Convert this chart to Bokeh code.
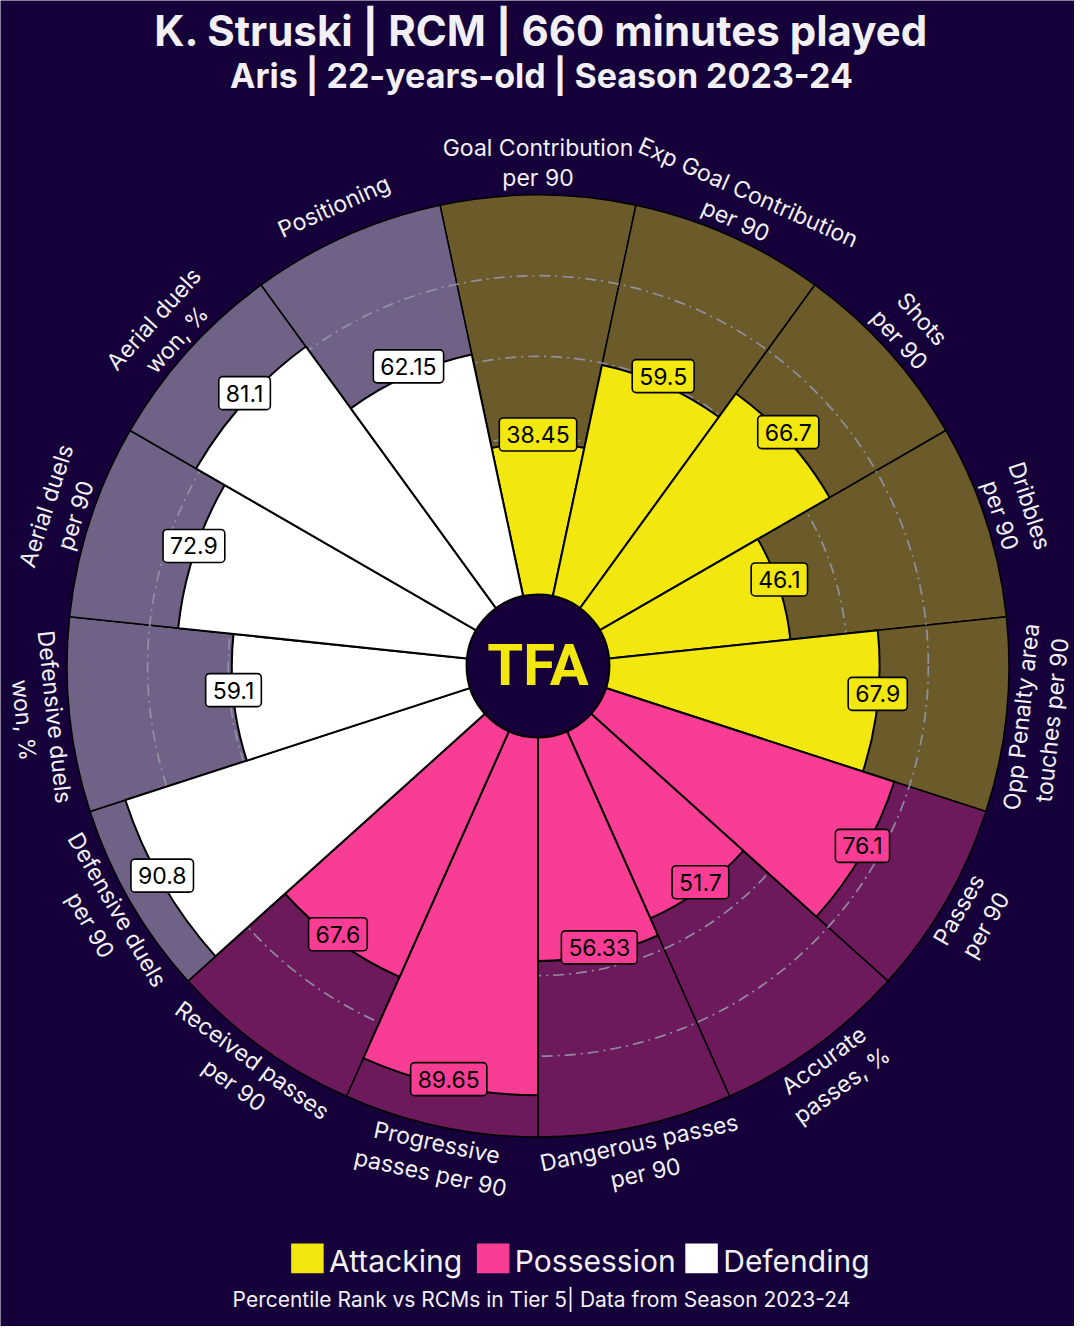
import numpy as np
from bokeh.plotting import figure
from bokeh.models import Range1d, ColumnDataSource
from bokeh.core.properties import value
from bokeh.embed import file_html
from bokeh.resources import INLINE

# ---------------- data ----------------
params = [
    "Goal Contribution\nper 90",
    "Exp Goal Contribution\nper 90",
    "Shots\nper 90",
    "Dribbles\nper 90",
    "Opp Penalty area\ntouches per 90",
    "Passes\nper 90",
    "Accurate\npasses, %",
    "Dangerous passes\nper 90",
    "Progressive\npasses per 90",
    "Received passes\nper 90",
    "Defensive duels\nper 90",
    "Defensive duels\nwon, %",
    "Aerial duels\nper 90",
    "Aerial duels\nwon, %",
    "Positioning",
]
values = [38.45, 59.5, 66.7, 46.1, 67.9, 76.1, 51.7, 56.33, 89.65, 67.6, 90.8, 59.1, 72.9, 81.1, 62.15]
value_labels = ["38.45", "59.5", "66.7", "46.1", "67.9", "76.1", "51.7", "56.33", "89.65", "67.6",
                "90.8", "59.1", "72.9", "81.1", "62.15"]
groups = ["Attacking"] * 5 + ["Possession"] * 5 + ["Defending"] * 5
group_names = ["Attacking", "Possession", "Defending"]
grid_levels = [20, 40, 60, 80]

title = "K. Struski | RCM | 660 minutes played"
subtitle = "Aris | 22-years-old | Season 2023-24"
footer = "Percentile Rank vs RCMs in Tier 5| Data from Season 2023-24"
logo = "TFA"

# ---------------- style ----------------
BG = "#15003a"
BAR = {"Attacking": "#f2e70f", "Possession": "#f93d95", "Defending": "#ffffff"}
SLICE_BG = {"Attacking": "#6b5a2a", "Possession": "#6d1a5d", "Defending": "#6f6286"}
TXT = "#f2f0f5"
FONT = "Inter"

# canvas in "reference pixel" units (x right, y up = -pixel row)
PW, PH = 1090, 1342
W, H = 1074, 1326
CX, CY = 545.5, -673.5         # pizza centre
INNER = 69.0                   # radius of value 0
SCALE = 4.09                   # units per percentile point
OUTER = INNER + 100 * SCALE
LABEL_R = 509.0

p = figure(width=W, height=H, output_backend="svg", toolbar_location=None,
           x_range=Range1d(0, PW), y_range=Range1d(-PH, 0),
           min_border=0, x_axis_type=None, y_axis_type=None,
           background_fill_color=BG, border_fill_color=BG)
p.outline_line_color = None
p.grid.visible = False

n = len(values)
step = 360.0 / n
centers = np.array([90.0 - step * i for i in range(n)])
vals = np.array(values)
bar_r = INNER + SCALE * vals

src = ColumnDataSource(dict(
    start=np.deg2rad(centers - step / 2), end=np.deg2rad(centers + step / 2),
    bgc=[SLICE_BG[g] for g in groups], barc=[BAR[g] for g in groups],
    r=bar_r,
))

# background slices
p.wedge(x=CX, y=CY, radius=OUTER, start_angle="start", end_angle="end",
        fill_color="bgc", line_color="black", line_width=1.5, source=src)

# grid circles
p.circle(x=CX, y=CY, radius=[INNER + SCALE * g for g in grid_levels], fill_color=None,
         line_color="#9696aa", line_width=1.7, line_dash="11 5 2 5", line_alpha=0.9)

# bars
p.wedge(x=CX, y=CY, radius="r", start_angle="start", end_angle="end",
        fill_color="barc", line_color="black", line_width=2, source=src)

# centre circle + logo
p.circle(x=CX, y=CY, radius=72.5, fill_color=BG, line_color="black", line_width=2)
p.text(x=[CX], y=[CY + 1], text=[logo], text_font=value("Roboto"), text_font_style="bold",
       text_font_size="58px", text_color=BAR["Attacking"], text_align="center",
       text_baseline="middle")

# parameter labels
th = np.deg2rad(centers)
rot = np.where(np.sin(th) > 1e-9, centers - 90, centers + 90)
rot = np.where(np.abs(centers - 90) < 1e-9, 0, rot)
lsrc = ColumnDataSource(dict(x=CX + LABEL_R * np.cos(th), y=CY + LABEL_R * np.sin(th),
                             text=params, angle=np.deg2rad(rot)))
p.text(x="x", y="y", text="text", angle="angle", source=lsrc,
       text_font=value(FONT), text_font_size="23px", text_color=TXT,
       text_align="center", text_baseline="middle", text_line_height=1.1)

# value boxes
vsrc = ColumnDataSource(dict(x=CX + bar_r * np.cos(th), y=CY + bar_r * np.sin(th) + 8,
                             text=value_labels, fc=[BAR[g] for g in groups]))
p.text(x="x", y="y", text="text", source=vsrc, text_font=value(FONT), text_font_size="23px",
       text_color="black", text_align="center", text_baseline="middle",
       background_fill_color="fc", border_line_color="black", border_line_width=1.6,
       padding=(7, 8), border_radius=4)

# titles
MID = 549
p.text(x=[MID], y=[-30], text=[title], text_font=value(FONT), text_font_style="bold",
       text_font_size="42px", text_color=TXT, text_align="center", text_baseline="middle")
p.text(x=[MID], y=[-76], text=[subtitle], text_font=value(FONT), text_font_style="bold",
       text_font_size="34px", text_color=TXT, text_align="center", text_baseline="middle")
p.text(x=[MID], y=[-1315], text=[footer], text_font=value(FONT),
       text_font_size="21px", text_color=TXT, text_align="center", text_baseline="middle")

# legend
leg_sq_x = [311.5, 500.0, 711.5]
leg_y = -1273
p.rect(x=leg_sq_x, y=[leg_y] * 3, width=33, height=30,
       fill_color=[BAR[g] for g in group_names], line_color=None)
p.text(x=[x + 22 for x in leg_sq_x], y=[leg_y - 3] * 3, text=group_names,
       text_font=value(FONT), text_font_size="30px", text_color=TXT,
       text_align="left", text_baseline="middle")

open("out.html", "w").write(file_html(p, INLINE))
